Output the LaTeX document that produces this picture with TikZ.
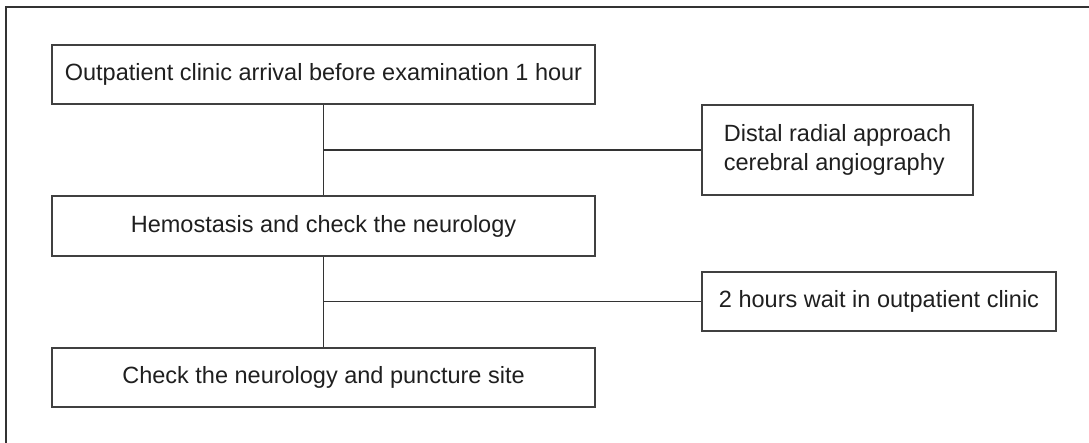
\documentclass[tikz,border=0pt]{standalone}
\usepackage{fontspec}
\setmainfont{Liberation Sans}
\begin{document}
\begin{tikzpicture}[x=1pt,y=-1pt,
  line/.style={draw=black!80,line width=1.1pt},
  boxnode/.style={draw=black!75,line width=1.1pt,inner sep=0pt,text=black!88,
    font=\fontsize{23.5}{29}\selectfont},
]
\useasboundingbox (0,0) rectangle (1089,443);
% frame (top and left edges visible)
\draw[line] (6,443) -- (6,7) -- (1089,7);
% main boxes
\node[boxnode,minimum width=543pt,minimum height=59pt] (b1) at (323.5,74.5) {Outpatient clinic arrival before examination 1 hour};
\node[boxnode,minimum width=543pt,minimum height=60pt] (b2) at (323.5,226) {Hemostasis and check the neurology};
\node[boxnode,minimum width=543pt,minimum height=59pt] (b3) at (323.5,377.5) {Check the neurology and puncture site};
% side boxes
\node[boxnode,minimum width=271pt,minimum height=90pt,align=left] (s1) at (837.5,150) {Distal radial approach\\cerebral angiography};
\node[boxnode,minimum width=354pt,minimum height=59pt] (s2) at (879,301.5) {2 hours wait in outpatient clinic};
% connectors
\draw[line] (b1.south) -- (b2.north);
\draw[line] (b2.south) -- (b3.north);
\draw[line] (b1.south |- s1.west) -- (s1.west);
\draw[line] (b2.south |- s2.west) -- (s2.west);
\end{tikzpicture}
\end{document}
